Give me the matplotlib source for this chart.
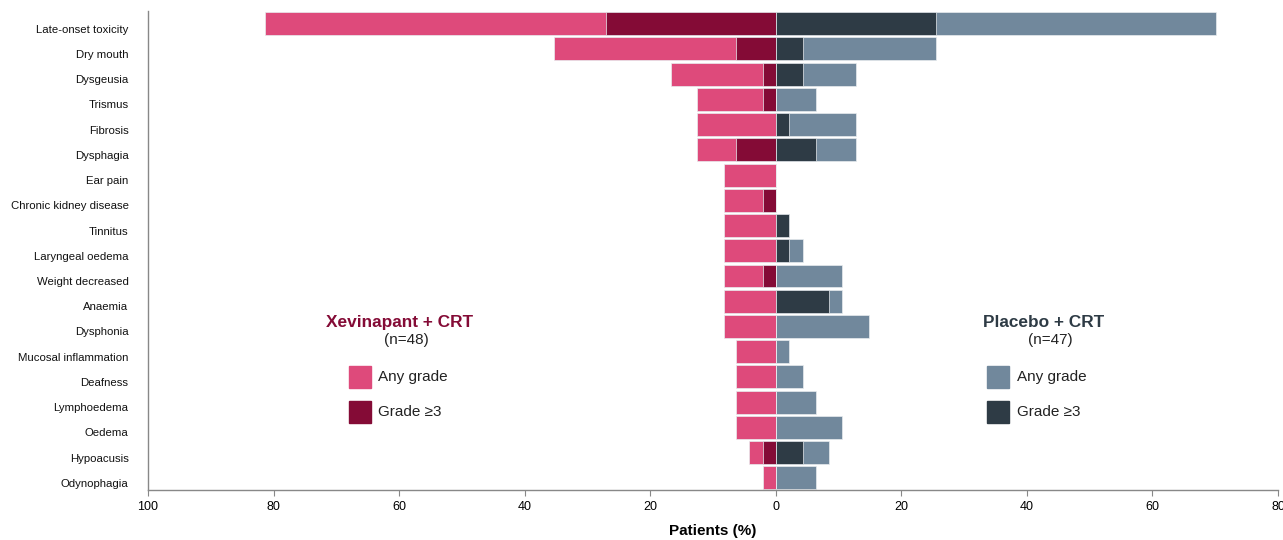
import matplotlib
matplotlib.use('Agg')

from matplotlib import pyplot
from matplotlib.patches import Rectangle
import matplotlib.transforms as mtransforms
import numpy as np

pyplot.rcParams['font.family'] = ['Liberation Sans', 'DejaVu Sans']

events = ['Late-onset toxicity', 'Dry mouth', 'Dysgeusia', 'Trismus', 'Fibrosis',
          'Dysphagia', 'Ear pain', 'Chronic kidney disease', 'Tinnitus',
          'Laryngeal oedema', 'Weight decreased', 'Anaemia', 'Dysphonia',
          'Mucosal inflammation', 'Deafness', 'Lymphoedema', 'Oedema',
          'Hypoacusis', 'Odynophagia']

# patient percentages, xevinapant + CRT (n=48)
xev_any = [81.3, 35.4, 16.7, 12.5, 12.5, 12.5, 8.3, 8.3, 8.3, 8.3, 8.3, 8.3, 8.3,
           6.3, 6.3, 6.3, 6.3, 4.2, 2.1]
xev_g3 = [27.1, 6.3, 2.1, 2.1, 0, 6.3, 0, 2.1, 0, 0, 2.1, 0, 0,
          0, 0, 0, 0, 2.1, 0]

# placebo + CRT (n=47)
pbo_any = [70.2, 25.5, 12.8, 6.4, 12.8, 12.8, 0, 0, 2.1, 4.3, 10.6, 10.6, 14.9,
           2.1, 4.3, 6.4, 10.6, 8.5, 6.4]
pbo_g3 = [25.5, 4.3, 4.3, 0, 2.1, 6.4, 0, 0, 2.1, 2.1, 0, 8.5, 0,
          0, 0, 0, 0, 4.3, 0]

PINK = '#de4a7b'
MAROON = '#840b36'
SLATE = '#71889c'
DARK = '#2e3b45'

fig = pyplot.figure(figsize=(12.83, 5.4), dpi=100)
ax = fig.add_axes([148 / 1283, 1 - 490 / 540, (1278 - 148) / 1283, 479 / 540])

y = np.arange(len(events))
h = 0.91
edge = dict(edgecolor='#e8ecef', linewidth=0.5)
ax.barh(y, -np.array(xev_any), height=h, color=PINK, **edge)
ax.barh(y, -np.array(xev_g3), height=h, color=MAROON, **edge)
ax.barh(y, pbo_any, height=h, color=SLATE, **edge)
ax.barh(y, pbo_g3, height=h, color=DARK, **edge)

ax.set_xlim(-100, 80)
ax.set_ylim(18.48, -0.5)
ticks = np.arange(-100, 81, 20)
ax.set_xticks(ticks)
ax.set_xticklabels([str(abs(t)) for t in ticks], fontsize=9)
ax.set_yticks(y)
ax.set_yticklabels(events, fontsize=8.2, color='#111111')
ax.tick_params(axis='y', length=0, pad=14)
ax.tick_params(axis='x', length=4, color='#888888', pad=4)
# labels sit a little below the bar centres in the original
shift = mtransforms.ScaledTranslation(0, -0.05, fig.dpi_scale_trans)
for lab in ax.get_yticklabels():
    lab.set_transform(lab.get_transform() + shift)
for s in ['top', 'right']:
    ax.spines[s].set_visible(False)
for s in ['left', 'bottom']:
    ax.spines[s].set_color('#888888')
    ax.spines[s].set_linewidth(1.0)

ax.set_xlabel('Patients (%)', fontsize=11, fontweight='bold', labelpad=8)

# in-plot legends
def group_legend(xc, sx, title, n, c_any, c_g3, col):
    ax.text(xc, 11.83, title, ha='center', va='center', fontsize=12.4,
            fontweight='bold', color=col)
    ax.text(xc + 1.2, 12.55, n, ha='center', va='center', fontsize=11, color='#222222')
    for yy, c, lab in [(14.02, c_any, 'Any grade'), (15.4, c_g3, 'Grade \u22653')]:
        ax.add_patch(Rectangle((sx, yy - 0.435), 3.5, 0.87, color=c, clip_on=False))
        ax.text(sx + 4.7, yy, lab, ha='left', va='center', fontsize=11, color='#222222')

group_legend(-60, -68.0, 'Xevinapant + CRT', '(n=48)', PINK, MAROON, MAROON)
group_legend(42.6, 33.7, 'Placebo + CRT', '(n=47)', SLATE, DARK, DARK)

pyplot.savefig('out.png', dpi=100)
pyplot.close()
